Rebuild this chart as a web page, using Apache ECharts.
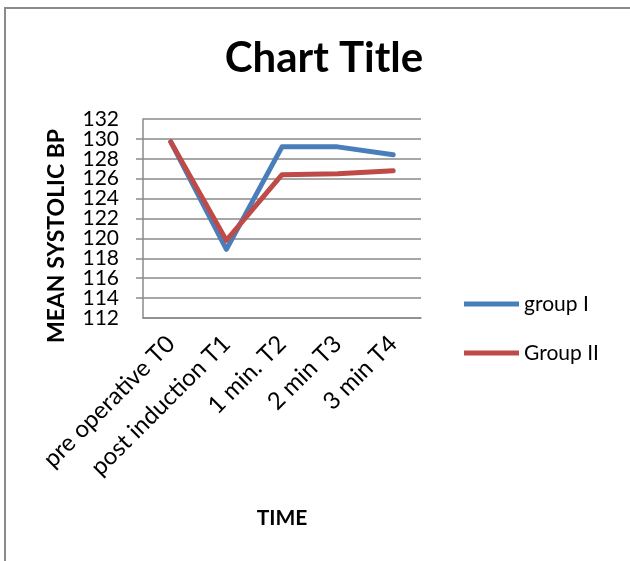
<!DOCTYPE html>
<html>
<head>
<meta charset="utf-8">
<script src="https://cdn.jsdelivr.net/npm/echarts@6/dist/echarts.min.js"></script>
<style>
  html, body { margin: 0; padding: 0; background: #fff; }
  #chart { width: 630px; height: 561px; }
</style>
</head>
<body>
<div id="chart"></div>
<script>
// Time points and mean systolic blood pressure per group
const timePoints = ['pre operative T0', 'post induction T1', '1 min. T2', '2 min T3', '3 min T4'];
const groupI = [129.7, 118.9, 129.2, 129.2, 128.4];
const groupII = [129.7, 119.8, 126.4, 126.5, 126.8];
const seriesNames = ['group I', 'Group II'];
const yMin = 112;
const yMax = 132;
const yStep = 2;

const FONT = 'Lato, "Open Sans", sans-serif';
const chart = echarts.init(document.getElementById('chart'), null, { renderer: 'canvas' });

const yLabelStyle = { fontFamily: FONT, fontSize: 21, color: '#000', margin: 24 };

chart.setOption({
  animation: false,
  backgroundColor: '#ffffff',
  title: {
    text: 'Chart Title',
    left: 319,
    textAlign: 'center',
    top: 32,
    textStyle: { fontFamily: FONT, fontSize: 42, fontWeight: 'bold', color: '#000' }
  },
  legend: {
    orient: 'vertical',
    left: 459,
    top: 287,
    itemWidth: 55,
    itemHeight: 5,
    itemGap: 25,
    icon: 'rect',
    data: seriesNames,
    textStyle: { fontFamily: FONT, fontSize: 21, color: '#000', lineHeight: 24 }
  },
  grid: { left: 143, right: 209, top: 119, bottom: 243, outerBoundsMode: 'none' },
  xAxis: {
    type: 'category',
    data: timePoints,
    boundaryGap: true,
    axisLine: { lineStyle: { color: '#8a8a8a', width: 1.5 } },
    axisTick: { show: false },
    axisLabel: { rotate: 45, fontFamily: FONT, fontSize: 24, color: '#000', margin: 22, interval: 0 },
    name: 'TIME',
    nameLocation: 'middle',
    nameGap: 190,
    nameTextStyle: { fontFamily: FONT, fontSize: 21, fontWeight: 'bold', color: '#000' }
  },
  yAxis: [
    {
      // main value axis: lines, ticks and the inner labels
      type: 'value',
      min: yMin,
      max: yMax,
      interval: yStep,
      axisLine: { show: true, lineStyle: { color: '#8a8a8a', width: 1.5 } },
      axisTick: { show: true, length: 7, lineStyle: { color: '#8a8a8a', width: 1.5 } },
      axisLabel: Object.assign({ showMinLabel: false, showMaxLabel: false, hideOverlap: false }, yLabelStyle),
      splitLine: { lineStyle: { color: '#8a8a8a', width: 1.5 } }
    },
    {
      // same scale, only carries the end labels so they are not dropped as overlapping
      type: 'value',
      position: 'left',
      min: yMin,
      max: yMax,
      interval: yStep,
      axisLine: { show: false },
      axisTick: { show: false },
      splitLine: { show: false },
      axisLabel: Object.assign({
        showMinLabel: true, showMaxLabel: true, hideOverlap: false,
        formatter: v => (v === yMin || v === yMax) ? String(v) : ''
      }, yLabelStyle)
    }
  ],
  series: [
    {
      name: seriesNames[0],
      type: 'line',
      yAxisIndex: 0,
      data: groupI,
      symbol: 'none',
      color: '#4a7ebb',
      lineStyle: { width: 5, color: '#4a7ebb', cap: 'round', join: 'round' }
    },
    {
      name: seriesNames[1],
      type: 'line',
      yAxisIndex: 0,
      data: groupII,
      symbol: 'none',
      color: '#be4b48',
      lineStyle: { width: 5, color: '#be4b48', cap: 'round', join: 'round' }
    }
  ],
  graphic: [
    {
      type: 'rect',
      silent: true,
      shape: { x: 5, y: 8, width: 700, height: 700 },
      style: { fill: 'none', stroke: '#8a8a8a', lineWidth: 2 }
    },
    {
      type: 'text',
      silent: true,
      x: 57,
      y: 236,
      rotation: Math.PI / 2,
      style: {
        text: 'MEAN SYSTOLIC BP',
        fontFamily: FONT,
        fontSize: 23,
        fontWeight: 'bold',
        fill: '#000',
        align: 'center',
        verticalAlign: 'middle'
      }
    }
  ]
});
</script>
</body>
</html>
